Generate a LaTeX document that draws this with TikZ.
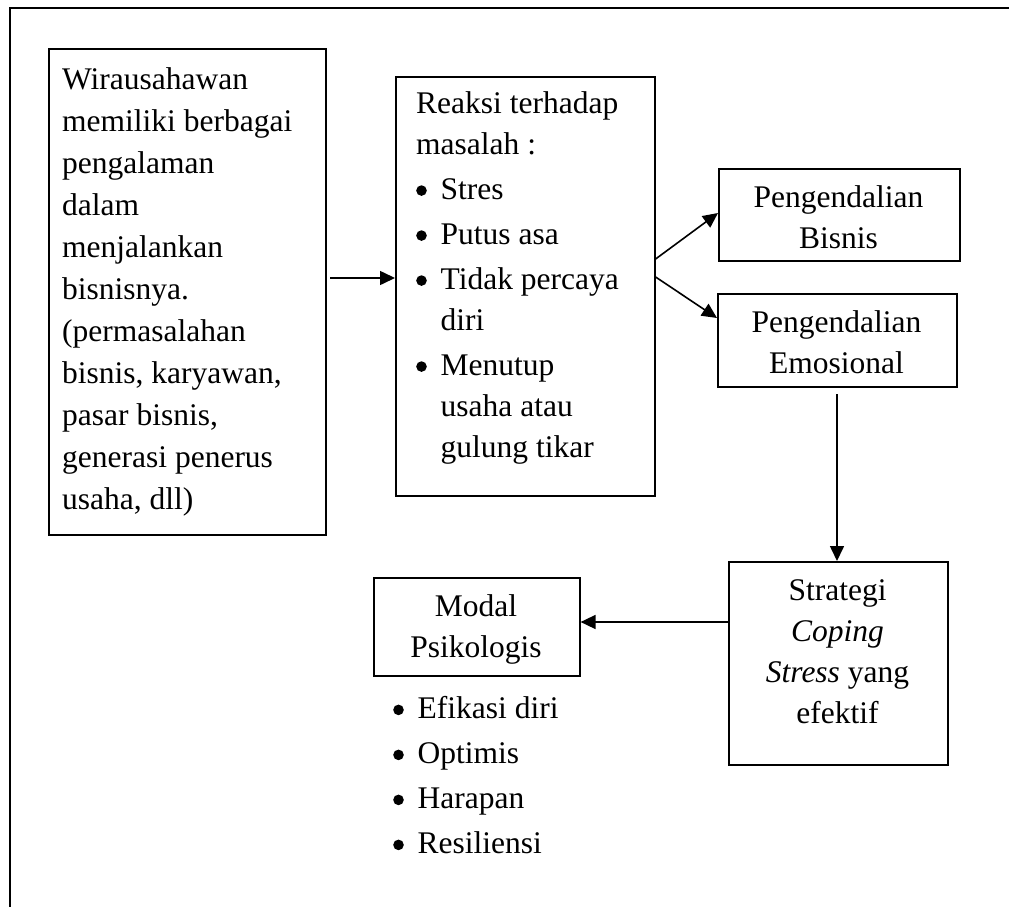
\documentclass[tikz,border=0pt]{standalone}
\usepackage{fontspec}
\setmainfont{Liberation Serif}
\usetikzlibrary{arrows.meta}
\newcommand{\bdot}{\tikz[baseline=0pt]\fill[black] (5.5pt,8.5pt) circle[radius=5.3pt];}
\newcommand{\bul}{\makebox[24.5pt][l]{\bdot}}
\newcommand{\ind}{\hspace*{24.5pt}}
\begin{document}
\begin{tikzpicture}[x=1pt,y=-1pt,
  box/.style={draw, line width=1.6pt, inner sep=0pt, anchor=north west},
  txt/.style={inner sep=0pt, font=\fontsize{31.5}{41}\selectfont},
  arr/.style={line width=1.6pt, -{Triangle[length=15pt,width=14pt]}},
  frame/.style={line width=2pt}]
\useasboundingbox (0,0) rectangle (1009,907);
% outer frame (open at right and bottom)
\draw[frame] (9.5,907) -- (9.5,8.5) -- (1009,8.5);
% boxes
\node[box, minimum width=277pt, minimum height=486pt] (b1) at (48,48) {};
\node[box, minimum width=259pt, minimum height=419pt] (b2) at (395,76) {};
\node[box, minimum width=241pt, minimum height=92pt] (b3) at (718,168) {};
\node[box, minimum width=239pt, minimum height=93pt] (b4) at (717,293) {};
\node[box, minimum width=219pt, minimum height=203pt] (b5) at (728,561) {};
\node[box, minimum width=206pt, minimum height=98pt] (b6) at (373,577) {};
% texts
\node[txt, anchor=north west, align=left, font=\fontsize{31.5}{42}\selectfont] (t1) at (62,67)
 {Wirausahawan\\memiliki berbagai\\pengalaman\\dalam\\menjalankan\\bisnisnya.\\(permasalahan\\bisnis, karyawan,\\pasar bisnis,\\generasi penerus\\usaha, dll)};
\node[txt, anchor=north west, align=left] (t2) at (416,91)
 {Reaksi terhadap\\masalah :\\[4pt]\bul Stres\\[4pt]\bul Putus asa\\[4pt]\bul Tidak percaya\\\ind diri\\[4pt]\bul Menutup\\\ind usaha atau\\\ind gulung tikar};
\node[txt, anchor=north, align=center] (t3) at (838.5,185) {Pengendalian\\Bisnis};
\node[txt, anchor=north, align=center] (t4) at (836.5,310) {Pengendalian\\Emosional};
\node[txt, anchor=north, align=center] (t5) at (837.5,579) {Strategi\\\textit{Coping}\\\textit{Stress} yang\\efektif};
\node[txt, anchor=north, align=center] (t6) at (476,594) {Modal\\Psikologis};
\node[txt, anchor=north west, align=left] (t7) at (393,696)
 {\bul Efikasi diri\\[4pt]\bul Optimis\\[4pt]\bul Harapan\\[4pt]\bul Resiliensi};
% connector anchors
\coordinate (a1) at (330,278);
\coordinate (s1) at (654,259);
\coordinate (e1) at (718,213);
\coordinate (s2) at (654,277);
\coordinate (e2) at (718,318);
\coordinate (v1) at (837,394);
\coordinate (h1) at (728,622);
% connectors
\draw[arr] (a1) -- (b2.west |- a1);
\draw[arr] (b2.east |- s1) -- (b3.west |- e1);
\draw[arr] (b2.east |- s2) -- (b4.west |- e2);
\draw[arr] (v1) -- (v1 |- b5.north);
\draw[arr] (b5.west |- h1) -- (b6.east |- h1);
\end{tikzpicture}
\end{document}
